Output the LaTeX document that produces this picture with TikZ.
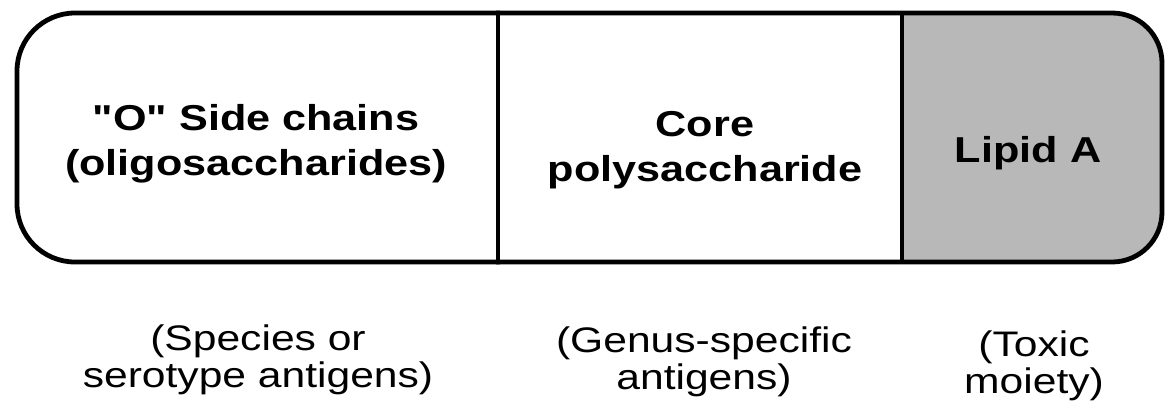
\documentclass[tikz,border=0pt]{standalone}
\usepackage{fontspec}
\newfontfamily\lsans{Liberation Sans}[FakeStretch=1.2]
\definecolor{lipidgray}{HTML}{B8B8B8}
\tikzset{
  outline/.style={line width=4.8pt, black},
  divider/.style={line width=4.2pt, black},
  toplabel/.style={align=center, font=\lsans\fontsize{36}{45}\selectfont\bfseries, inner sep=0pt},
  botlabel/.style={align=center, font=\lsans\fontsize{35.5}{37.5}\selectfont, inner sep=0pt},
}
\begin{document}
\begin{tikzpicture}[x=1pt, y=-1pt]
\useasboundingbox (0,0) rectangle (1166,404);
% grey Lipid A region
\begin{scope}
  \clip[rounded corners=50] (800,13) -- (1162,13) -- (1162,262) -- (800,262) -- cycle;
  \fill[lipidgray] (902,0) rectangle (1166,280);
\end{scope}
% outer outline
\draw[outline, rounded corners=58] (500,13) -- (17,13) -- (17,262) -- (500,262);
\draw[outline, rounded corners=50] (496,13) -- (1162,13) -- (1162,262) -- (496,262);
% dividers
\coordinate (d1t) at (498,13); \coordinate (d1b) at (498,262);
\coordinate (d2t) at (902,13); \coordinate (d2b) at (902,262);
\draw[divider] (d1t) -- (d1b);
\draw[divider] (d2t) -- (d2b);
% labels in the bar
\node[toplabel] (oside) at (256,144) {"O" Side chains\\(oligosaccharides)};
\node[toplabel] (core) at (705,150) {Core\\polysaccharide};
\node[toplabel] (lipid) at (1028,153) {Lipid A};
% labels below
\node[botlabel] (species) at (258,360) {(Species or\\serotype antigens)};
\node[botlabel] (genus) at (704,362) {(Genus-specific\\antigens)};
\node[botlabel] (toxic) at (1034,366) {(Toxic\\moiety)};
\end{tikzpicture}
\end{document}
